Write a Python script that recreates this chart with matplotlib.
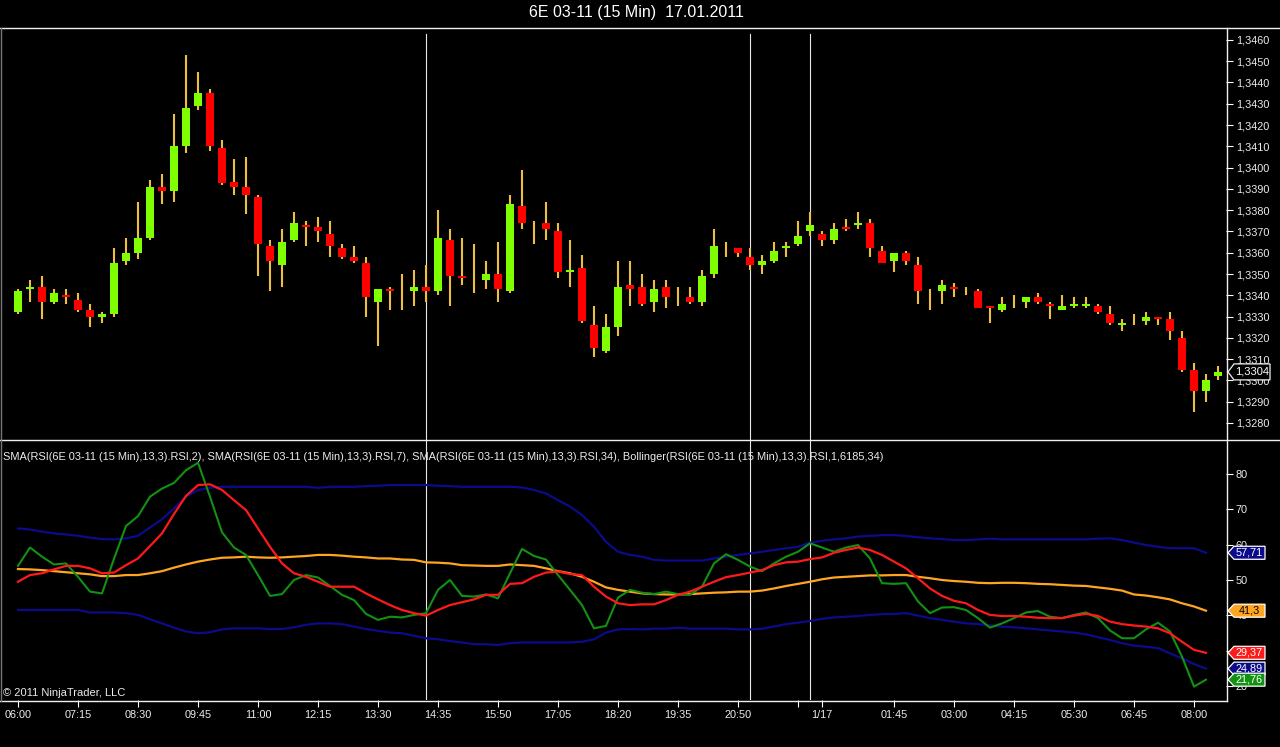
import matplotlib
matplotlib.use("Agg")
import matplotlib.pyplot as plt
import matplotlib.transforms as mtransforms
from matplotlib.patches import Polygon
from matplotlib.lines import Line2D
import numpy as np

plt.rcParams['font.family'] = ['Liberation Sans', 'DejaVu Sans']

# ---------------- data ----------------
title = "6E 03-11 (15 Min)  17.01.2011"
indicator_label = ("SMA(RSI(6E 03-11 (15 Min),13,3).RSI,2), SMA(RSI(6E 03-11 (15 Min),13,3).RSI,7), "
                   "SMA(RSI(6E 03-11 (15 Min),13,3).RSI,34), Bollinger(RSI(6E 03-11 (15 Min),13,3).RSI,1,6185,34)")
copyright_text = "© 2011 NinjaTrader, LLC"

opens = [1.3332, 1.3343, 1.3344, 1.3337, 1.3340, 1.3338, 1.3333, 1.3330, 1.3331, 1.3356,
         1.3360, 1.3367, 1.3391, 1.3389, 1.3410, 1.3429, 1.3435, 1.3409, 1.3393, 1.3391,
         1.3386, 1.3363, 1.3354, 1.3366, 1.3373, 1.3372, 1.3369, 1.3362, 1.3358, 1.3355,
         1.3337, 1.3343, 1.3341, 1.3342, 1.3344, 1.3342, 1.3366, 1.3349, 1.3348, 1.3347,
         1.3350, 1.3342, 1.3382, 1.3372, 1.3374, 1.3370, 1.3351, 1.3353, 1.3326, 1.3314,
         1.3325, 1.3345, 1.3344, 1.3337, 1.3344, 1.3339, 1.3339, 1.3337, 1.3350, 1.3362,
         1.3362, 1.3358, 1.3354, 1.3356, 1.3362, 1.3364, 1.3370, 1.3369, 1.3366, 1.3372,
         1.3373, 1.3374, 1.3361, 1.3356, 1.3360, 1.3354, 1.3342, 1.3342, 1.3344, 1.3342,
         1.3342, 1.3335, 1.3333, 1.3337, 1.3337, 1.3339, 1.3336, 1.3333, 1.3335, 1.3335,
         1.3335, 1.3331, 1.3326, 1.3327, 1.3328, 1.3330, 1.3329, 1.3320, 1.3305, 1.3295,
         1.3302]
highs = [1.3343, 1.3347, 1.3349, 1.3343, 1.3343, 1.3341, 1.3336, 1.3332, 1.3362, 1.3367,
         1.3384, 1.3394, 1.3397, 1.3425, 1.3453, 1.3445, 1.3437, 1.3413, 1.3404, 1.3405,
         1.3387, 1.3366, 1.3371, 1.3379, 1.3375, 1.3377, 1.3375, 1.3364, 1.3363, 1.3358,
         1.3343, 1.3344, 1.3350, 1.3352, 1.3354, 1.3380, 1.3371, 1.3367, 1.3364, 1.3356,
         1.3365, 1.3387, 1.3399, 1.3375, 1.3384, 1.3374, 1.3366, 1.3359, 1.3335, 1.3331,
         1.3356, 1.3356, 1.3350, 1.3347, 1.3347, 1.3344, 1.3344, 1.3352, 1.3371, 1.3365,
         1.3362, 1.3362, 1.3359, 1.3365, 1.3365, 1.3375, 1.3379, 1.3370, 1.3374, 1.3376,
         1.3379, 1.3376, 1.3363, 1.3360, 1.3361, 1.3358, 1.3343, 1.3347, 1.3346, 1.3344,
         1.3343, 1.3335, 1.3339, 1.3340, 1.3339, 1.3341, 1.3337, 1.3340, 1.3339, 1.3339,
         1.3336, 1.3335, 1.3329, 1.3331, 1.3332, 1.3330, 1.3332, 1.3323, 1.3308, 1.3303,
         1.3307]
lows = [1.3331, 1.3337, 1.3329, 1.3336, 1.3336, 1.3332, 1.3325, 1.3327, 1.3330, 1.3354,
        1.3357, 1.3366, 1.3383, 1.3384, 1.3407, 1.3427, 1.3408, 1.3392, 1.3387, 1.3378,
        1.3349, 1.3342, 1.3344, 1.3365, 1.3363, 1.3365, 1.3358, 1.3357, 1.3355, 1.3330,
        1.3316, 1.3333, 1.3333, 1.3335, 1.3337, 1.3340, 1.3335, 1.3345, 1.3341, 1.3343,
        1.3337, 1.3341, 1.3371, 1.3364, 1.3366, 1.3348, 1.3344, 1.3327, 1.3311, 1.3313,
        1.3321, 1.3335, 1.3335, 1.3332, 1.3334, 1.3335, 1.3336, 1.3335, 1.3348, 1.3358,
        1.3358, 1.3352, 1.3350, 1.3355, 1.3358, 1.3363, 1.3368, 1.3363, 1.3364, 1.3370,
        1.3371, 1.3358, 1.3355, 1.3351, 1.3354, 1.3336, 1.3333, 1.3336, 1.3339, 1.3340,
        1.3334, 1.3327, 1.3332, 1.3334, 1.3334, 1.3336, 1.3329, 1.3333, 1.3334, 1.3334,
        1.3331, 1.3326, 1.3323, 1.3326, 1.3326, 1.3326, 1.3319, 1.3304, 1.3285, 1.3290,
        1.3300]
closes = [1.3342, 1.3344, 1.3337, 1.3341, 1.3339, 1.3333, 1.3330, 1.3331, 1.3355, 1.3360,
          1.3367, 1.3391, 1.3389, 1.3410, 1.3428, 1.3435, 1.3410, 1.3393, 1.3391, 1.3387,
          1.3364, 1.3356, 1.3365, 1.3374, 1.3372, 1.3370, 1.3363, 1.3358, 1.3356, 1.3339,
          1.3343, 1.3342, 1.3341, 1.3344, 1.3342, 1.3367, 1.3349, 1.3348, 1.3348, 1.3350,
          1.3343, 1.3383, 1.3374, 1.3372, 1.3371, 1.3351, 1.3352, 1.3328, 1.3315, 1.3325,
          1.3344, 1.3343, 1.3336, 1.3343, 1.3339, 1.3339, 1.3337, 1.3349, 1.3363, 1.3362,
          1.3360, 1.3354, 1.3356, 1.3361, 1.3363, 1.3368, 1.3373, 1.3366, 1.3371, 1.3371,
          1.3374, 1.3362, 1.3355, 1.3360, 1.3356, 1.3342, 1.3342, 1.3345, 1.3343, 1.3342,
          1.3334, 1.3334, 1.3336, 1.3337, 1.3339, 1.3337, 1.3335, 1.3335, 1.3336, 1.3336,
          1.3332, 1.3327, 1.3327, 1.3327, 1.3330, 1.3329, 1.3323, 1.3305, 1.3295, 1.3300,
          1.3304]

rsi_sma2 = [54.0, 59.2, 56.6, 54.4, 54.7, 50.9, 46.7, 46.2, 56.0, 65.3,
            68.1, 73.6, 75.9, 77.5, 81.1, 83.2, 73.6, 63.5, 59.2, 57.1,
            51.4, 45.5, 46.0, 50.0, 51.4, 50.7, 48.3, 45.8, 44.3, 40.4,
            38.7, 39.6, 39.4, 40.1, 40.6, 47.2, 50.0, 45.5, 45.3, 45.9,
            44.8, 51.9, 58.8, 56.8, 55.8, 51.4, 47.2, 42.9, 36.3, 37.0,
            45.0, 47.2, 46.4, 46.0, 46.7, 46.0, 45.8, 48.1, 54.7, 57.3,
            55.7, 53.8, 52.5, 54.7, 56.6, 58.0, 60.4, 59.2, 58.0, 59.2,
            59.9, 56.1, 49.1, 48.9, 49.1, 43.9, 40.6, 42.2, 42.3, 41.5,
            39.2, 36.5, 37.7, 39.2, 40.8, 41.2, 39.6, 39.2, 40.1, 40.8,
            39.2, 35.7, 33.5, 33.5, 36.0, 37.9, 35.4, 28.3, 19.8, 21.76]
rsi_sma7 = [49.5, 51.4, 51.9, 53.0, 54.0, 54.0, 53.3, 51.9, 52.1, 54.2,
            56.1, 59.6, 63.2, 68.7, 73.8, 76.9, 77.1, 75.5, 72.6, 69.8,
            64.6, 59.4, 54.7, 51.9, 50.9, 49.5, 48.1, 48.1, 48.1, 46.2,
            44.5, 42.9, 41.5, 40.6, 39.9, 41.5, 42.9, 43.7, 44.5, 45.8,
            45.8, 48.9, 49.1, 50.9, 52.1, 52.4, 51.7, 51.4, 48.1, 45.3,
            43.4, 42.9, 43.1, 43.1, 44.3, 45.8, 46.7, 48.1, 49.5, 50.8,
            51.4, 52.1, 52.8, 54.2, 55.0, 55.2, 55.9, 56.4, 57.7, 58.5,
            59.2, 58.5, 57.1, 55.2, 53.3, 50.5, 47.6, 45.5, 44.1, 43.4,
            41.5, 40.1, 39.8, 39.8, 39.6, 39.3, 39.2, 39.2, 39.9, 40.4,
            39.8, 38.2, 37.5, 37.1, 36.8, 36.3, 34.9, 32.5, 30.2, 29.37]
rsi_sma34 = [53.1, 53.0, 52.8, 52.5, 52.2, 51.9, 51.6, 51.1, 51.1, 51.4,
             51.4, 51.9, 52.5, 53.5, 54.4, 55.2, 55.8, 56.3, 56.4, 56.6,
             56.4, 56.3, 56.4, 56.6, 56.8, 57.1, 57.1, 56.9, 56.6, 56.4,
             56.1, 56.1, 55.8, 55.7, 55.0, 54.9, 54.7, 54.2, 54.1, 54.0,
             54.0, 54.4, 54.2, 54.0, 53.3, 52.5, 51.9, 50.9, 49.5, 47.9,
             47.2, 46.7, 46.2, 46.0, 45.9, 45.9, 46.0, 46.2, 46.4, 46.5,
             46.7, 46.7, 47.0, 47.6, 48.3, 48.9, 49.5, 50.2, 50.7, 50.9,
             51.1, 51.3, 51.3, 51.4, 51.4, 50.9, 50.5, 50.0, 49.7, 49.5,
             49.2, 49.1, 49.2, 49.2, 49.1, 48.9, 48.8, 48.6, 48.4, 48.3,
             47.9, 47.5, 47.0, 45.9, 45.6, 45.1, 44.5, 43.4, 42.5, 41.3]
bb_upper = [64.6, 64.3, 63.7, 63.2, 62.9, 62.5, 62.0, 61.6, 61.5, 61.8,
            62.5, 64.9, 67.2, 70.3, 73.6, 75.5, 76.1, 76.4, 76.4, 76.4,
            76.4, 76.4, 76.4, 76.4, 76.4, 76.1, 76.4, 76.4, 76.4, 76.6,
            76.7, 76.9, 76.9, 76.9, 76.9, 76.7, 76.6, 76.4, 76.4, 76.4,
            76.4, 76.4, 76.2, 75.5, 74.5, 72.6, 70.8, 68.4, 65.1, 60.8,
            58.0, 57.1, 56.6, 55.7, 55.5, 55.5, 55.5, 55.5, 56.1, 56.6,
            57.1, 57.5, 58.0, 58.5, 59.0, 59.4, 60.6, 61.1, 61.5, 61.8,
            62.3, 62.5, 62.7, 62.7, 62.5, 62.1, 61.8, 61.6, 61.3, 61.3,
            61.5, 61.7, 61.5, 61.5, 61.5, 61.5, 61.5, 61.5, 61.5, 61.5,
            61.7, 61.8, 61.3, 60.6, 59.9, 59.4, 59.0, 59.0, 59.0, 57.71]
bb_lower = [41.5, 41.5, 41.5, 41.5, 41.5, 41.5, 40.8, 40.8, 40.8, 40.6,
            40.1, 38.9, 37.7, 36.5, 35.4, 34.9, 35.2, 36.0, 36.3, 36.3,
            36.3, 36.1, 36.1, 36.6, 37.3, 37.7, 37.7, 37.5, 36.8, 36.1,
            35.6, 35.1, 34.9, 34.2, 33.5, 33.2, 32.7, 32.3, 31.8, 31.8,
            31.6, 32.1, 32.3, 32.3, 32.3, 32.3, 32.3, 32.5, 33.2, 35.1,
            36.0, 36.1, 36.0, 36.2, 36.2, 36.5, 36.2, 36.2, 36.2, 36.2,
            36.0, 36.0, 36.2, 36.8, 37.5, 37.9, 38.4, 39.0, 39.4, 39.6,
            39.8, 40.1, 40.3, 40.4, 40.6, 39.9, 39.2, 38.7, 38.2, 37.7,
            37.5, 37.1, 36.8, 36.6, 36.3, 36.0, 35.7, 35.4, 35.1, 34.6,
            33.8, 33.0, 32.1, 31.4, 31.1, 30.7, 29.2, 27.8, 26.2, 24.89]

time_labels = ["06:00", "07:15", "08:30", "09:45", "11:00", "12:15", "13:30", "14:35",
               "15:50", "17:05", "18:20", "19:35", "20:50", "", "1/17", "01:45", "03:00",
               "04:15", "05:30", "06:45", "08:00"]
time_label_bars = [0, 5, 10, 15, 20, 25, 30, 35, 40, 45, 50, 55, 60, 65, 67, 73, 78, 83, 88, 93, 98]
session_break_bars = [34, 61, 66]

price_ticks = [1.3280, 1.3290, 1.3300, 1.3310, 1.3320, 1.3330, 1.3340, 1.3350, 1.3360, 1.3370,
               1.3380, 1.3390, 1.3400, 1.3410, 1.3420, 1.3430, 1.3440, 1.3450, 1.3460]
rsi_ticks = [20, 30, 40, 50, 60, 70, 80]

# ---------------- styling ----------------
W, H = 1280, 747
BG = 'black'
UP = '#80FF00'
DOWN = '#FF0000'
WICK = '#EEC040'
C_FAST = '#129112'
C_MID = '#FF1A1A'
C_SLOW = '#FFA520'
C_BAND = '#0B0B8C'
TXT = '#ECECEC'


def fx(px):
    return px / W


def fy(py):
    return 1 - py / H


fig = plt.figure(figsize=(W / 100, H / 100), dpi=100, facecolor=BG)
AX_R = 1226
ax_p = fig.add_axes([0, fy(440), fx(AX_R), (440 - 28) / H], facecolor=BG)
ax_i = fig.add_axes([0, fy(700), fx(AX_R), (700 - 440) / H], facecolor=BG, sharex=ax_p)

x = np.arange(len(opens))
o = np.array(opens); h = np.array(highs); l = np.array(lows); c = np.array(closes)
up = c >= o

# session break lines
for b in session_break_bars:
    ax_p.axvline(b, ymin=0, ymax=(440 - 34) / (440 - 28), color='#E8E8E8', lw=0.8, zorder=1)
    ax_i.axvline(b, color='#E8E8E8', lw=0.8, zorder=1)

# candles
ax_p.vlines(x, l, h, color=WICK, lw=1.5, zorder=2)
ax_p.bar(x, np.abs(c - o), width=0.6, bottom=np.minimum(o, c),
         color=np.where(up, UP, DOWN), linewidth=0, zorder=3)

# indicator lines
xi = np.arange(len(rsi_sma2))
ax_i.plot(xi, bb_upper, color=C_BAND, lw=1.6, zorder=3)
ax_i.plot(xi, bb_lower, color=C_BAND, lw=1.6, zorder=3)
ax_i.plot(xi, rsi_sma34, color=C_SLOW, lw=1.6, zorder=4)
ax_i.plot(xi, rsi_sma2, color=C_FAST, lw=1.5, zorder=5)
ax_i.plot(xi, rsi_sma7, color=C_MID, lw=1.6, zorder=6)

# limits
ax_p.set_xlim(-1.5, (AX_R - 18) / 12)
ax_p.set_ylim(1.32720, 1.34656)
ax_i.set_ylim(16.0, 89.66)

for ax in (ax_p, ax_i):
    for s in ax.spines.values():
        s.set_visible(False)
    ax.yaxis.tick_right()
    ax.tick_params(axis='y', colors='white', direction='out', length=5, width=0.8,
                   labelsize=7.8, pad=2, labelcolor=TXT)

ax_p.set_yticks(price_ticks)
ax_p.set_yticklabels([f"{v:.4f}".replace('.', ',') for v in price_ticks])
ax_p.tick_params(axis='x', bottom=False, labelbottom=False)

ax_i.set_yticks(rsi_ticks)
ax_i.set_yticklabels([str(v) for v in rsi_ticks])
ax_i.set_xticks(time_label_bars)
ax_i.set_xticklabels(time_labels)
ax_i.tick_params(axis='x', colors='white', direction='out', length=5, width=0.8,
                 labelsize=7.8, pad=2, labelcolor=TXT)

# frame lines
def fline(x0, y0, x1, y1, color='#F0F0F0', lw=1.0):
    fig.add_artist(Line2D([fx(x0), fx(x1)], [fy(y0), fy(y1)], transform=fig.transFigure,
                          color=color, lw=lw))

fline(0, 28, 1280, 28)
fline(0, 440, 1280, 440)
fline(0, 700.5, AX_R + 1, 700.5)
fline(AX_R + 0.5, 28, AX_R + 0.5, 700.5)
fline(0.5, 28, 0.5, 700.5, color='#777777')

# texts
fig.text(fx(636), fy(13), title, ha='center', va='center', color='white', fontsize=11.5)
fig.text(fx(3), fy(457), indicator_label, ha='left', va='center', color=TXT, fontsize=7.9)
fig.text(fx(3), fy(693), copyright_text, ha='left', va='center', color=TXT, fontsize=8.0)


# value tags
def tag(ax, val, text, fc, tc, ec, hpx=13, x0=1228, x1=1265, fs=7.8):
    trans = mtransforms.blended_transform_factory(fig.transFigure, ax.transData)
    y0, y1 = ax.get_ylim()
    axh_px = ax.get_position().height * H
    dh = (y1 - y0) / axh_px * hpx / 2
    pts = [(fx(x0), val), (fx(x0 + 6), val + dh), (fx(x1), val + dh),
           (fx(x1), val - dh), (fx(x0 + 6), val - dh)]
    fig.add_artist(Polygon(pts, closed=True, transform=trans, facecolor=fc, edgecolor=ec,
                           lw=0.9, zorder=10))
    fig.text(fx((x0 + 6 + x1) / 2), val, text, transform=trans, ha='center', va='center',
             color=tc, fontsize=fs, zorder=11)


tag(ax_p, closes[-1], f"{closes[-1]:.4f}".replace('.', ','), 'black', 'white', '#F0F0F0',
    hpx=16, x0=1228, x1=1270, fs=8)
tag(ax_i, bb_upper[-1], f"{bb_upper[-1]:.2f}".replace('.', ','), C_BAND, 'white', 'white')
tag(ax_i, rsi_sma34[-1], f"{rsi_sma34[-1]:g}".replace('.', ','), C_SLOW, 'black', 'white')
tag(ax_i, rsi_sma7[-1], f"{rsi_sma7[-1]:.2f}".replace('.', ','), C_MID, 'white', 'white')
tag(ax_i, bb_lower[-1], f"{bb_lower[-1]:.2f}".replace('.', ','), C_BAND, 'white', 'white')
tag(ax_i, rsi_sma2[-1], f"{rsi_sma2[-1]:.2f}".replace('.', ','), C_FAST, 'white', 'white')

fig.savefig("out.png", dpi=100, facecolor=BG)
